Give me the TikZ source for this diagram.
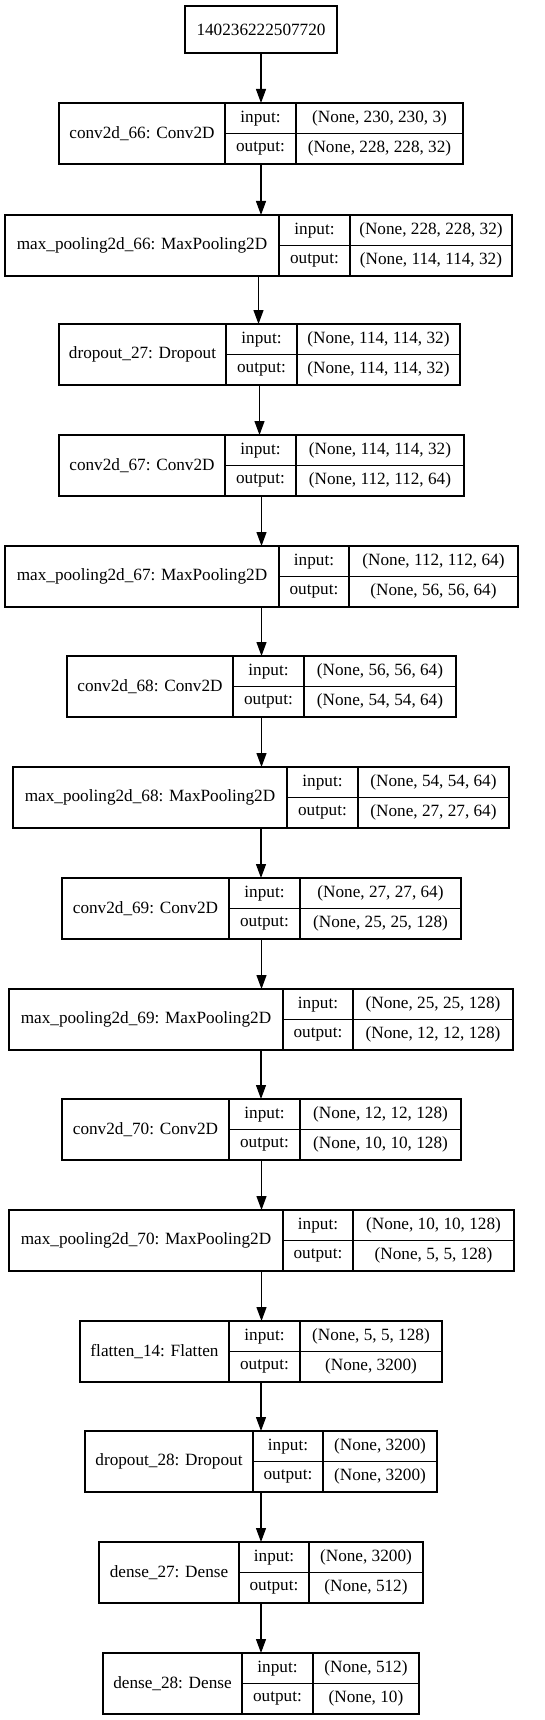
\documentclass[tikz,border=0pt]{standalone}
\usepackage{fontspec}
\setmainfont{Liberation Serif}
\usetikzlibrary{arrows.meta}

\tikzset{
  cell/.style={draw, line width=1.2pt, inner sep=0pt, outer sep=0pt, anchor=north west,
    font=\fontsize{17.2}{20}\selectfont},
  flow/.style={-{Triangle[length=14pt,width=10pt]}, line width=1.2pt},
}

% one layer record: id, top, x0, x1, x2, x3, name, input shape, output shape
\newcommand{\layer}[9]{%
  \node[cell, minimum width={#6-#3}, minimum height=61] (#1) at (#3,#2) {};
  \node[cell, minimum width={#4-#3}, minimum height=61] (#1name) at (#3,#2) {#7};
  \node[cell, minimum width={#5-#4}, minimum height=30.5] (#1in) at (#4,#2) {input:};
  \node[cell, minimum width={#5-#4}, minimum height=30.5] (#1out) at (#4,#2+30.5) {output:};
  \node[cell, minimum width={#6-#5}, minimum height=30.5] (#1ins) at (#5,#2) {#8};
  \node[cell, minimum width={#6-#5}, minimum height=30.5] (#1outs) at (#5,#2+30.5) {#9};
}

\begin{document}
\begin{tikzpicture}[x=1pt, y=-1pt]
  \useasboundingbox (0,0) rectangle (544,1720);
  % input id
  \node[cell, minimum width=152, minimum height=47] (top) at (185,6) {140236222507720};
  % layers
  \layer{L1}{103}{59}{225}{296}{463}{conv2d\_66: Conv2D}{(None, 230, 230, 3)}{(None, 228, 228, 32)}
  \layer{L2}{215}{5}{279}{350}{512}{max\_pooling2d\_66: MaxPooling2D}{(None, 228, 228, 32)}{(None, 114, 114, 32)}
  \layer{L3}{324}{59}{226}{297}{460}{dropout\_27: Dropout}{(None, 114, 114, 32)}{(None, 114, 114, 32)}
  \layer{L4}{435}{59}{225}{296}{464}{conv2d\_67: Conv2D}{(None, 114, 114, 32)}{(None, 112, 112, 64)}
  \layer{L5}{546}{5}{279}{349}{518}{max\_pooling2d\_67: MaxPooling2D}{(None, 112, 112, 64)}{(None, 56, 56, 64)}
  \layer{L6}{656}{67}{233}{304}{456}{conv2d\_68: Conv2D}{(None, 56, 56, 64)}{(None, 54, 54, 64)}
  \layer{L7}{767}{13}{287}{358}{509}{max\_pooling2d\_68: MaxPooling2D}{(None, 54, 54, 64)}{(None, 27, 27, 64)}
  \layer{L8}{878}{62}{229}{300}{461}{conv2d\_69: Conv2D}{(None, 27, 27, 64)}{(None, 25, 25, 128)}
  \layer{L9}{989}{9}{283}{353}{513}{max\_pooling2d\_69: MaxPooling2D}{(None, 25, 25, 128)}{(None, 12, 12, 128)}
  \layer{L10}{1099}{62}{229}{300}{461}{conv2d\_70: Conv2D}{(None, 12, 12, 128)}{(None, 10, 10, 128)}
  \layer{L11}{1210}{9}{283}{353}{514}{max\_pooling2d\_70: MaxPooling2D}{(None, 10, 10, 128)}{(None, 5, 5, 128)}
  \layer{L12}{1321}{80}{229}{300}{442}{flatten\_14: Flatten}{(None, 5, 5, 128)}{(None, 3200)}
  \layer{L13}{1431}{85}{253}{323}{437}{dropout\_28: Dropout}{(None, 3200)}{(None, 3200)}
  \layer{L14}{1542}{99}{239}{309}{423}{dense\_27: Dense}{(None, 3200)}{(None, 512)}
  \layer{L15}{1653}{103}{242}{313}{419}{dense\_28: Dense}{(None, 512)}{(None, 10)}
  % connectors
  \draw[flow] (top.south) -- (top.south |- L1.north);
  \draw[flow] (L1.south) -- (L1.south |- L2.north);
  \draw[flow] (L2.south) -- (L2.south |- L3.north);
  \draw[flow] (L3.south) -- (L3.south |- L4.north);
  \draw[flow] (L4.south) -- (L4.south |- L5.north);
  \draw[flow] (L5.south) -- (L5.south |- L6.north);
  \draw[flow] (L6.south) -- (L6.south |- L7.north);
  \draw[flow] (L7.south) -- (L7.south |- L8.north);
  \draw[flow] (L8.south) -- (L8.south |- L9.north);
  \draw[flow] (L9.south) -- (L9.south |- L10.north);
  \draw[flow] (L10.south) -- (L10.south |- L11.north);
  \draw[flow] (L11.south) -- (L11.south |- L12.north);
  \draw[flow] (L12.south) -- (L12.south |- L13.north);
  \draw[flow] (L13.south) -- (L13.south |- L14.north);
  \draw[flow] (L14.south) -- (L14.south |- L15.north);
\end{tikzpicture}
\end{document}
